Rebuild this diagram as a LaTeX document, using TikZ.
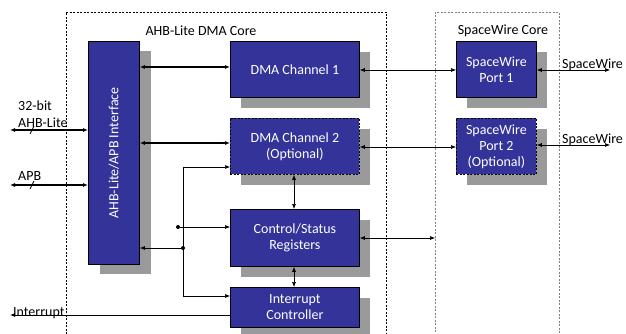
\documentclass[tikz,border=0pt]{standalone}
\usepackage{fontspec}
\setmainfont{Carlito}
\usetikzlibrary{arrows.meta}
\definecolor{boxblue}{HTML}{333399}
\definecolor{shade}{HTML}{9A9A9A}
\tikzset{
  tip/.tip={Latex[length=5pt,width=4pt]},
  blk/.style={draw=black, line width=0.8pt, fill=boxblue, text=white, anchor=north west, align=center, inner sep=0pt,
    font=\fontsize{14}{16}\selectfont},
  opt/.style={blk, dashed, dash pattern=on 2pt off 1.5pt},
  shadowbox/.style={fill=shade, draw=none},
  core/.style={draw=black, line width=0.6pt, dash pattern=on 2pt off 1.5pt},
  swcorestyle/.style={draw=gray, line width=0.9pt, dash pattern=on 2pt off 1.5pt, anchor=north west, inner sep=0pt},
  lbl/.style={font=\fontsize{14}{16}\selectfont, text=black, inner sep=0pt},
  thickbi/.style={line width=1.1pt, tip-tip},
  thinbi/.style={line width=0.6pt, tip-tip},
  thinto/.style={line width=0.6pt, -tip},
  dot/.style={circle, fill=black, inner sep=0pt, minimum size=4pt},
}
\begin{document}
\begin{tikzpicture}[x=1pt,y=-1pt]
\useasboundingbox (0,0) rectangle (626,334);
% core boundaries
\draw[core] (66,334) -- (66,12) -- (386,12) -- (386,334);
\node[swcorestyle, minimum width=124pt, minimum height=330pt] (swcore) at (435,12) {};
\node[lbl] (dmacorelbl) at (201,31) {AHB-Lite DMA Core};
\node[lbl] (swcorelbl) at (503,31) {SpaceWire Core};
% shadows
\fill[shadowbox] (100,51) rectangle (151,274);
\fill[shadowbox] (241,52) rectangle (370,108);
\fill[shadowbox] (241,129) rectangle (370,185);
\fill[shadowbox] (241,220) rectangle (370,277);
\fill[shadowbox] (241,298) rectangle (370,338);
\fill[shadowbox] (467,52) rectangle (547,108);
\fill[shadowbox] (467,129) rectangle (547,185);
% blocks
\node[blk, minimum width=51pt, minimum height=223pt] (iface) at (88,41) {};
\node[text=white, rotate=90, font=\fontsize{14}{16}\selectfont] (ifacelbl) at (iface.center) {AHB-Lite/APB Interface};
\node[blk, minimum width=129pt, minimum height=56pt] (dma1) at (230,41) {DMA Channel 1};
\node[opt, minimum width=129pt, minimum height=56pt] (dma2) at (230,118) {DMA Channel 2\\(Optional)};
\node[blk, minimum width=129pt, minimum height=57pt] (csr) at (230,209) {Control/Status\\Registers};
\node[blk, minimum width=129pt, minimum height=40pt] (irq) at (230,287) {Interrupt\\Controller};
\node[blk, minimum width=80pt, minimum height=56pt] (sw1) at (456,41) {SpaceWire\\Port 1};
\node[opt, minimum width=80pt, minimum height=56pt] (sw2) at (456,118) {SpaceWire\\Port 2\\(Optional)};
% external ends
\coordinate (ahbend) at (10,130);
\coordinate (apbend) at (10,185);
\coordinate (irqend) at (10,315);
\coordinate (sw1end) at (610,70);
\coordinate (sw2end) at (610,145);
% connectors
\draw[thickbi] (iface.east |- 0,67) -- (dma1.west |- 0,67);
\draw[thickbi] (iface.east |- 0,143) -- (dma2.west |- 0,143);
\draw[thinbi] (dma1.east |- 0,70) -- (sw1.west |- 0,70);
\draw[thinbi] (dma2.east |- 0,147) -- (sw2.west |- 0,147);
\draw[thinbi] (sw1.east |- sw1end) -- (sw1end);
\draw[thinbi] (sw2.east |- sw2end) -- (sw2end);
\node[lbl, anchor=base west] (sw1lbl) at (562,69) {SpaceWire};
\node[lbl, anchor=base west] (sw2lbl) at (562,143) {SpaceWire};
\draw[thickbi] (ahbend) -- (iface.west |- ahbend);
\draw[line width=0.8pt] (30,134) -- (34,126);
\node[lbl, anchor=base west] (ahblbl1) at (18,111) {32-bit};
\node[lbl, anchor=base west] (ahblbl2) at (18,128) {AHB-Lite};
\draw[thickbi] (apbend) -- (iface.west |- apbend);
\draw[line width=0.8pt] (30,189) -- (34,181);
\node[lbl, anchor=base west] (apblbl) at (18,180) {APB};
\draw[line width=0.8pt, -tip] (irq.west |- irqend) -- (irqend);
\node[lbl, anchor=base west] (irqlbl) at (13,316) {Interrupt};
\draw[thinbi] (csr.east |- 0,238) -- (swcore.west |- 0,238);
\draw[thinbi] (dma2.south -| 294,0) -- (csr.north -| 294,0);
\draw[thinbi] (csr.south -| 294,0) -- (irq.north -| 294,0);
% control bus
\node[dot] (j0) at (178,227) {};
\node[dot] (j1) at (183,248) {};
\coordinate (btop) at (183,167);
\coordinate (bbot) at (183,296);
\draw[thinto] (j1) -- (iface.east |- j1);
\draw[line width=0.6pt] (btop) -- (bbot);
\draw[thinto] (btop) -- (dma2.west |- btop);
\draw[thinto] (bbot) -- (irq.west |- bbot);
\draw[thinto] (j0) -- (csr.west |- j0);
\end{tikzpicture}
\end{document}
